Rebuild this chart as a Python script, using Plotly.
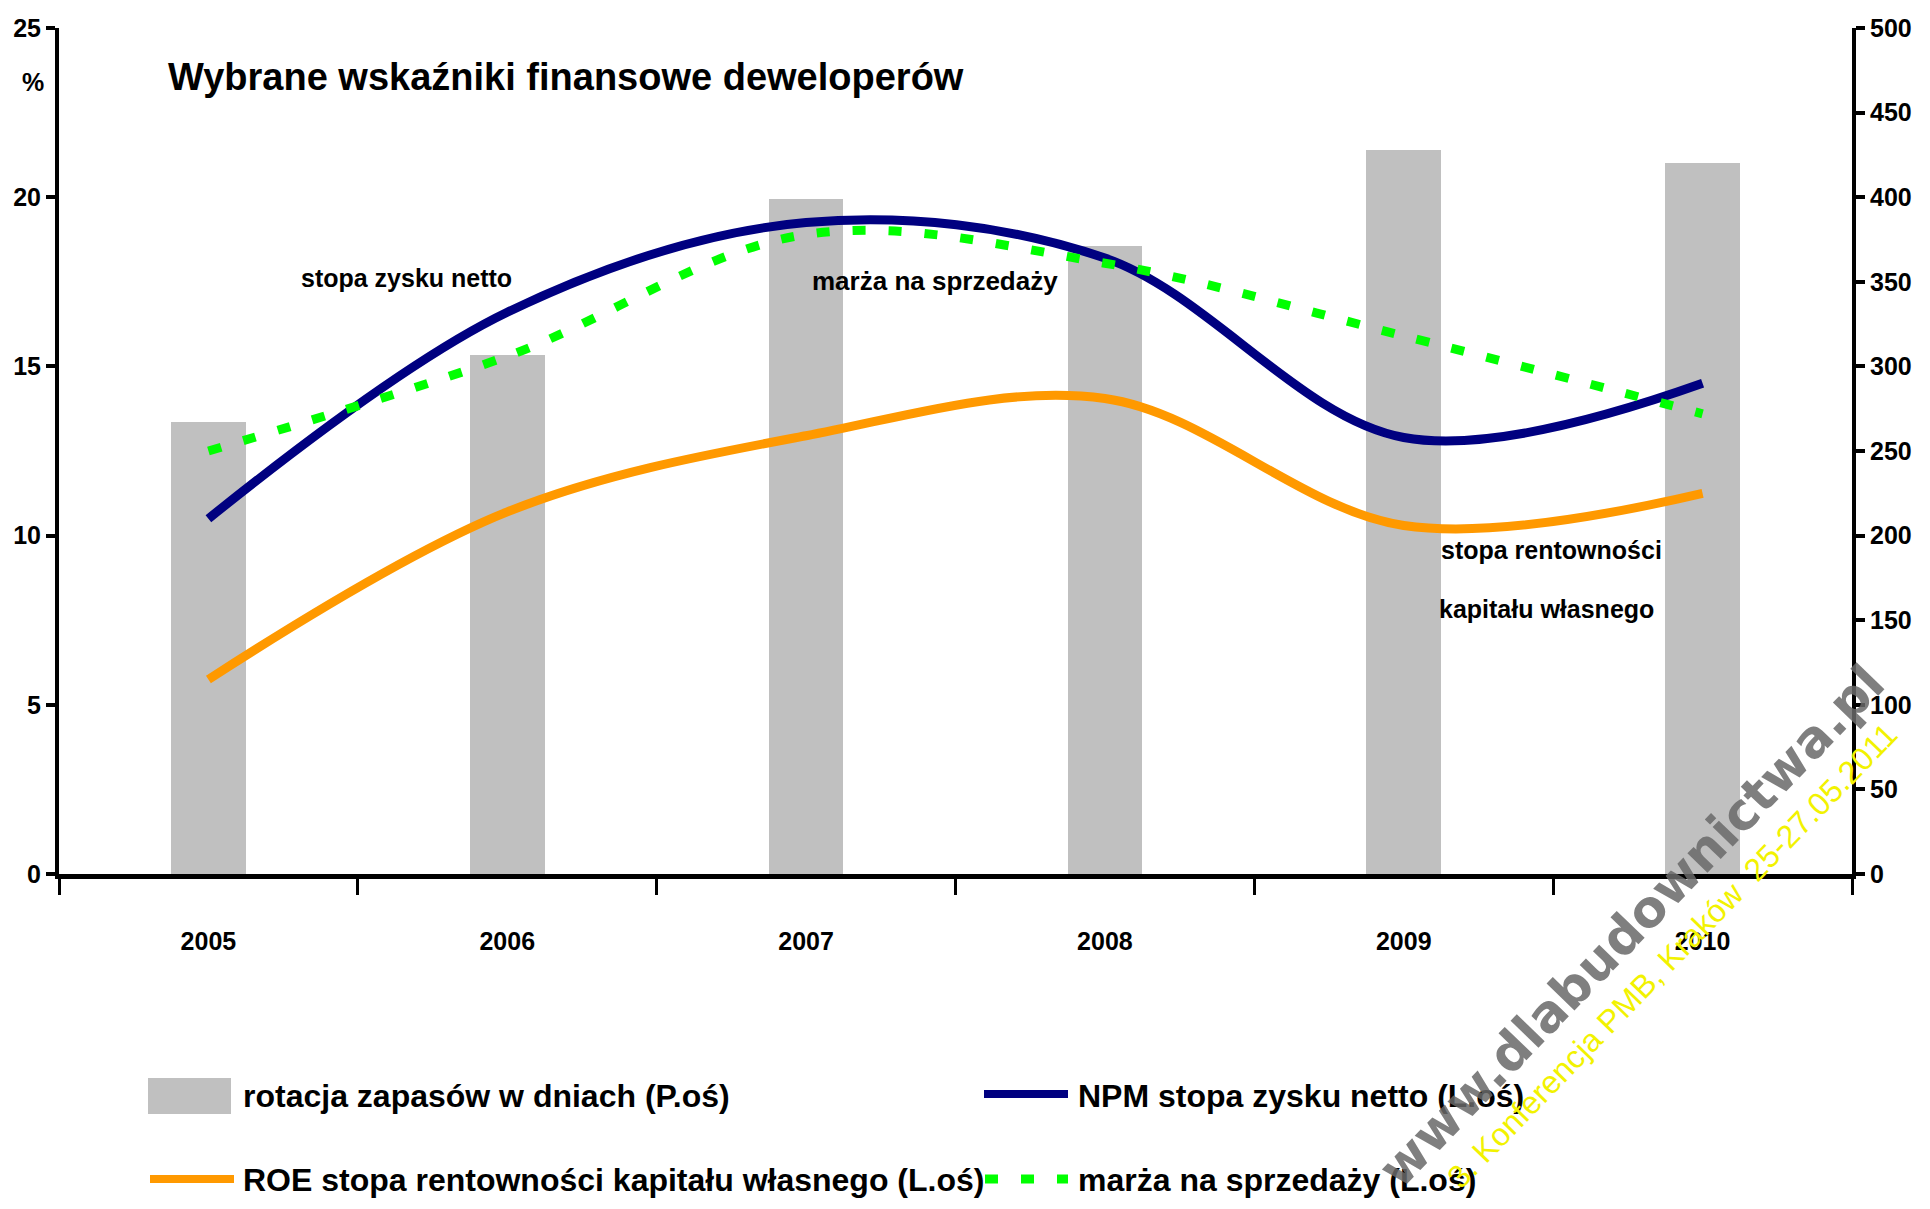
import plotly.graph_objects as go

# ---------------- data ----------------
years = ["2005", "2006", "2007", "2008", "2009", "2010"]
x_pos = [0, 1, 2, 3, 4, 5]
rotacja = [267, 307, 399, 371, 428, 420]          # days, right axis
npm = [10.5, 16.6, 19.25, 18.2, 12.9, 14.5]        # %, left axis
roe = [5.75, 10.7, 12.95, 14.05, 10.3, 11.25]      # %, left axis
marza = [12.5, 15.3, 18.9, 18.05, 15.9, 13.6]      # %, left axis
left_ticks = [0, 5, 10, 15, 20, 25]
right_ticks = [0, 50, 100, 150, 200, 250, 300, 350, 400, 450, 500]

names = [
    "rotacja zapasów w dniach (P.oś)",
    "NPM stopa zysku netto (L.oś)",
    "ROE stopa rentowności kapitału własnego (L.oś)",
    "marża na sprzedaży (L.oś)",
]

FONT = "Liberation Sans, Arial, sans-serif"
C_BAR, C_NPM, C_ROE, C_MAR = "#C0C0C0", "#000080", "#FF9900", "#00FF00"
MAR_DASH = "13px,23px"

W, H = 1930, 1209
L, R, T, B = 59, 1852, 28, 874          # plot area in screen pixels


def px(xs):
    return (xs - L) / (R - L)


def py(ys):
    return (B - ys) / (B - T)


fig = go.Figure()
fig.add_trace(go.Bar(x=x_pos, y=rotacja, width=0.25, name=names[0],
                     marker=dict(color=C_BAR, line=dict(width=0)),
                     xaxis="x", yaxis="y"))
fig.add_trace(go.Scatter(x=x_pos, y=npm, name=names[1], mode="lines",
                         line=dict(color=C_NPM, width=9, shape="spline"),
                         xaxis="x", yaxis="y2"))
fig.add_trace(go.Scatter(x=x_pos, y=roe, name=names[2], mode="lines",
                         line=dict(color=C_ROE, width=9, shape="spline"),
                         xaxis="x", yaxis="y2"))
fig.add_trace(go.Scatter(x=x_pos, y=marza, name=names[3], mode="lines",
                         line=dict(color=C_MAR, width=9, shape="spline", dash=MAR_DASH),
                         xaxis="x", yaxis="y2"))

tickfont = dict(family=FONT, size=25, color="black", weight="bold")

fig.update_layout(
    width=W, height=H,
    margin=dict(l=L, r=W - R, t=T, b=H - B, pad=0),
    paper_bgcolor="white", plot_bgcolor="white",
    showlegend=False,
    bargap=0,
    xaxis=dict(range=[-0.5, 5.5], tickmode="array", tickvals=x_pos, ticktext=years,
               ticks="", showgrid=False, zeroline=False,
               showline=True, linecolor="black", linewidth=5,
               tickfont=tickfont, ticklabelstandoff=41,
               minor=dict(tick0=-0.5, dtick=1, ticks="outside", ticklen=16,
                          tickwidth=3, tickcolor="black", showgrid=False)),
    yaxis=dict(range=[0, 500], side="right", tickmode="array", tickvals=right_ticks,
               ticks="outside", ticklen=9, tickwidth=4, tickcolor="black",
               showline=True, linecolor="black", linewidth=4,
               showgrid=False, zeroline=False, tickfont=tickfont),
    yaxis2=dict(range=[0, 25], side="left", overlaying="y", tickmode="array",
                tickvals=left_ticks, ticks="outside", ticklen=9, tickwidth=4,
                tickcolor="black", showline=True, linecolor="black", linewidth=4,
                showgrid=False, zeroline=False, tickfont=tickfont),
)

ann = []
# title
ann.append(dict(text="Wybrane wskaźniki finansowe deweloperów", x=px(166), y=py(77),
                xanchor="left", yanchor="middle",
                font=dict(family=FONT, size=38, color="black", weight="bold")))
# % unit
ann.append(dict(text="%", x=px(33), y=py(82), xanchor="center", yanchor="middle",
                font=tickfont))
# in-chart labels
lab_font = dict(family=FONT, size=25, color="black", weight="bold")
ann.append(dict(text="stopa zysku netto", x=px(406), y=py(278), xanchor="center",
                yanchor="middle", font=lab_font))
ann.append(dict(text="marża na sprzedaży", x=px(935), y=py(281), xanchor="center",
                yanchor="middle", font=dict(family=FONT, size=26, color="black",
                                            weight="bold")))
ann.append(dict(text="stopa rentowności", x=px(1439), y=py(550), xanchor="left",
                yanchor="middle", font=lab_font))
ann.append(dict(text="kapitału własnego", x=px(1437), y=py(609), xanchor="left",
                yanchor="middle", font=lab_font))

# legend (manual)
leg_font = dict(family=FONT, size=32, color="black", weight="bold")
shapes = []
shapes.append(dict(type="rect", xref="paper", yref="paper", x0=px(148), x1=px(231),
                   y0=py(1078), y1=py(1114), fillcolor=C_BAR, line=dict(width=0)))
shapes.append(dict(type="line", xref="paper", yref="paper", x0=px(984), x1=px(1068),
                   y0=py(1094), y1=py(1094), line=dict(color=C_NPM, width=8)))
shapes.append(dict(type="line", xref="paper", yref="paper", x0=px(150), x1=px(234),
                   y0=py(1179), y1=py(1179), line=dict(color=C_ROE, width=8)))
shapes.append(dict(type="line", xref="paper", yref="paper", x0=px(985), x1=px(1068),
                   y0=py(1179), y1=py(1179), line=dict(color=C_MAR, width=9, dash=MAR_DASH)))
ann.append(dict(text=names[0], x=px(241), y=py(1096), xanchor="left", yanchor="middle",
                font=leg_font))
ann.append(dict(text=names[1], x=px(1076), y=py(1096), xanchor="left", yanchor="middle",
                font=leg_font))
ann.append(dict(text=names[2], x=px(241), y=py(1180), xanchor="left", yanchor="middle",
                font=leg_font))
ann.append(dict(text=names[3], x=px(1076), y=py(1180), xanchor="left", yanchor="middle",
                font=leg_font))

# watermarks
ann.append(dict(text="www.dlabudownictwa.pl", x=px(1631), y=py(926), xanchor="center",
                yanchor="middle", textangle=-46,
                font=dict(family="DejaVu Sans, Liberation Sans", size=51,
                          color="rgba(105,105,105,0.85)", weight="bold")))
ann.append(dict(text="3. Konferencja PMB, Kraków  25-27.05.2011", x=px(1672), y=py(956),
                xanchor="center", yanchor="middle", textangle=-46,
                font=dict(family="Liberation Sans, Arial", size=32, color="#F2F200")))

for a in ann:
    a.setdefault("xref", "paper")
    a.setdefault("yref", "paper")
    a["showarrow"] = False

fig.update_layout(annotations=ann, shapes=shapes)
fig.write_html("out.html",
               config={"displayModeBar": False},
               post_script="document.body.style.margin='0';"
                           "document.body.style.overflow='hidden';")
